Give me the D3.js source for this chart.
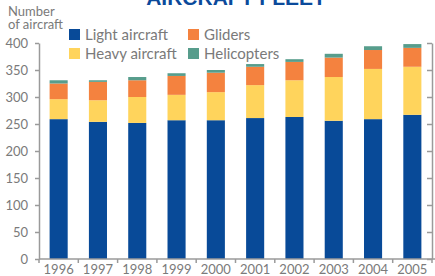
<!DOCTYPE html>
<html>
<head>
<meta charset="utf-8">
<script src="https://cdn.jsdelivr.net/npm/d3@7"></script>
<style>
  body { margin: 0; background: #fff; }
  svg { display: block; font-family: Lato, "Open Sans", sans-serif; }
</style>
</head>
<body>
<div id="chart"></div>
<script>
// values
var years = ["1996", "1997", "1998", "1999", "2000", "2001", "2002", "2003", "2004", "2005"];
var lightAircraft = [259, 254, 252, 257, 257, 261, 263, 256, 259, 267];
var heavyAircraft = [37, 40, 48, 47, 52, 61, 68, 81, 93, 89];
var gliders = [29, 34, 31, 35, 36, 34, 34, 36, 35, 35];
var helicopters = [6, 3, 6, 5, 5, 5, 5, 7, 7, 7];
var yTicks = [0, 50, 100, 150, 200, 250, 300, 350, 400];

var seriesNames = ["Light aircraft", "Heavy aircraft", "Gliders", "Helicopters"];
var colors = ["#084a98", "#ffd45c", "#f4823f", "#579d8c"];

var W = 435, H = 276;
var plotL = 39, plotR = 432, plotT = 43, plotB = 259;
var axisCol = "#9a9a9a", textCol = "#7a7a7a";

var table = years.map(function(y, i) {
  return { year: y, light: lightAircraft[i], heavy: heavyAircraft[i], gliders: gliders[i], heli: helicopters[i] };
});
var keys = ["light", "heavy", "gliders", "heli"];
var stacked = d3.stack().keys(keys)(table);

var svg = d3.select("#chart").append("svg")
  .attr("width", W).attr("height", H);

var x = d3.scaleBand().domain(years).range([plotL, plotR]).paddingInner(0.54).paddingOuter(0.27);
var y = d3.scaleLinear().domain([0, 400]).range([plotB, plotT]);

// title, mostly cut off at the top
svg.append("text")
  .attr("x", 236).attr("y", 5)
  .attr("text-anchor", "middle")
  .style("font-family", "'Liberation Sans', Arial, sans-serif")
  .style("font-weight", "bold")
  .style("font-size", "21px")
  .style("fill", "#0b4a9b")
  .text("AIRCRAFT FLEET");

// y axis title
svg.append("text").attr("x", 8).attr("y", 16)
  .style("font-size", "13px").style("fill", textCol).text("Number");
svg.append("text").attr("x", 8).attr("y", 29)
  .style("font-size", "13px").style("fill", textCol).text("of aircraft");

// bars
svg.append("g").selectAll("g")
  .data(stacked)
  .enter().append("g")
  .attr("fill", function(d, i) { return colors[i]; })
  .selectAll("rect")
  .data(function(d) { return d; })
  .enter().append("rect")
  .attr("x", function(d) { return x(d.data.year); })
  .attr("width", x.bandwidth())
  .attr("y", function(d) { return y(d[1]); })
  .attr("height", function(d) { return y(d[0]) - y(d[1]); });

// left axis
var yAxis = svg.append("g")
  .attr("transform", "translate(" + plotL + ",0)")
  .call(d3.axisLeft(y).tickValues(yTicks).tickSize(4).tickSizeOuter(0).tickPadding(7));
yAxis.select(".domain").attr("stroke", axisCol).attr("stroke-width", 1.5);
yAxis.selectAll(".tick line").attr("stroke", axisCol).attr("stroke-width", 1.5);
yAxis.selectAll(".tick text").style("font-size", "13px").style("fill", textCol)
  .style("font-family", "Lato, sans-serif");

// right axis, inward ticks, no labels
var yAxisR = svg.append("g")
  .attr("transform", "translate(" + plotR + ",0)")
  .call(d3.axisLeft(y).tickValues(yTicks).tickSize(5).tickSizeOuter(0).tickFormat(""));
yAxisR.select(".domain").attr("stroke", axisCol).attr("stroke-width", 1.5);
yAxisR.selectAll(".tick line").attr("stroke", axisCol).attr("stroke-width", 1.5);

// x axis: baseline, ticks between bars
svg.append("line")
  .attr("x1", plotL).attr("x2", W).attr("y1", plotB).attr("y2", plotB)
  .attr("stroke", axisCol).attr("stroke-width", 1.5);
var sepTicks = d3.range(years.length + 1).map(function(i) { return plotL + i * (plotR - plotL) / years.length; });
svg.append("g").selectAll("line")
  .data(sepTicks)
  .enter().append("line")
  .attr("x1", function(d) { return d; }).attr("x2", function(d) { return d; })
  .attr("y1", plotB).attr("y2", plotB + 4)
  .attr("stroke", axisCol).attr("stroke-width", 1.5);
svg.append("g").selectAll("text")
  .data(years)
  .enter().append("text")
  .attr("x", function(d) { return x(d) + x.bandwidth() / 2; })
  .attr("y", 274)
  .attr("text-anchor", "middle")
  .style("font-size", "13px").style("fill", textCol)
  .text(function(d) { return d; });

// legend
var legendPos = [[69, 29], [69, 48], [188, 29], [188, 48]];
var lg = svg.append("g").selectAll("g")
  .data([0, 1, 2, 3])
  .enter().append("g")
  .attr("transform", function(d) { return "translate(" + legendPos[d][0] + "," + legendPos[d][1] + ")"; });
lg.append("rect").attr("width", 11).attr("height", 11)
  .attr("fill", function(d) { return colors[d]; });
lg.append("text").attr("x", 16).attr("y", 10.5)
  .style("font-size", "15px").style("fill", textCol)
  .text(function(d) { return seriesNames[d]; });
</script>
</body>
</html>
